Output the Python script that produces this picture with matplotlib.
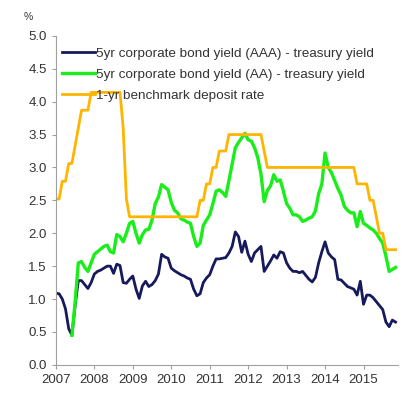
import numpy as np
import matplotlib
matplotlib.use("Agg")
import matplotlib.pyplot as plt

plt.rcParams['font.family'] = ['Liberation Sans', 'DejaVu Sans']

# monthly points, Jan 2007 .. Nov 2015
start_year = 2007
n_months = 107

aaa_spread = [
    1.09, 1.08, 1.00, 0.85, 0.55, 0.45, 0.90, 1.28, 1.28, 1.22, 1.16, 1.25,
    1.38, 1.42, 1.44, 1.47, 1.50, 1.50, 1.39, 1.53, 1.51, 1.25, 1.24, 1.30,
    1.35, 1.15, 1.01, 1.20, 1.27, 1.19, 1.22, 1.28, 1.38, 1.68, 1.64, 1.62,
    1.47, 1.43, 1.40, 1.37, 1.35, 1.32, 1.30, 1.15, 1.05, 1.08, 1.25, 1.32,
    1.37, 1.50, 1.61, 1.61, 1.62, 1.63, 1.70, 1.80, 2.02, 1.95, 1.71, 1.88,
    1.68, 1.57, 1.70, 1.75, 1.80, 1.42, 1.50, 1.58, 1.67, 1.62, 1.72, 1.70,
    1.55, 1.47, 1.42, 1.42, 1.40, 1.42, 1.36, 1.30, 1.26, 1.33, 1.55, 1.72,
    1.87, 1.70, 1.64, 1.60, 1.30, 1.29, 1.24, 1.19, 1.17, 1.15, 1.06, 1.27,
    0.92, 1.06, 1.06, 1.02, 0.96, 0.90, 0.84, 0.65, 0.58, 0.68, 0.65,
]

aa_spread = [
    np.nan, np.nan, np.nan, np.nan, np.nan, 0.45, 0.95, 1.55, 1.57, 1.48, 1.42, 1.55,
    1.68, 1.72, 1.76, 1.80, 1.82, 1.72, 1.70, 1.98, 1.95, 1.87, 2.00, 2.15,
    2.18, 2.00, 1.85, 1.98, 2.05, 2.06, 2.20, 2.45, 2.55, 2.74, 2.70, 2.66,
    2.47, 2.35, 2.31, 2.22, 2.20, 2.17, 2.15, 1.95, 1.80, 1.85, 2.12, 2.20,
    2.28, 2.45, 2.64, 2.66, 2.62, 2.56, 2.80, 3.05, 3.30, 3.38, 3.45, 3.52,
    3.42, 3.40, 3.30, 3.15, 2.90, 2.48, 2.65, 2.72, 2.89, 2.79, 2.81, 2.64,
    2.45, 2.38, 2.28, 2.28, 2.25, 2.18, 2.20, 2.23, 2.25, 2.34, 2.60, 2.75,
    3.22, 3.00, 2.92, 2.80, 2.68, 2.58, 2.41, 2.35, 2.31, 2.31, 2.10, 2.33,
    2.15, 2.12, 2.08, 2.05, 2.00, 1.92, 1.85, 1.65, 1.42, 1.45, 1.48,
]

deposit_rate = [
    2.52, 2.52, 2.79, 2.79, 3.06, 3.06, 3.33, 3.60, 3.87, 3.87, 3.87, 4.14,
    4.14, 4.14, 4.14, 4.14, 4.14, 4.14, 4.14, 4.14, 4.14, 3.60, 2.52, 2.25,
    2.25, 2.25, 2.25, 2.25, 2.25, 2.25, 2.25, 2.25, 2.25, 2.25, 2.25, 2.25,
    2.25, 2.25, 2.25, 2.25, 2.25, 2.25, 2.25, 2.25, 2.25, 2.50, 2.50, 2.75,
    2.75, 3.00, 3.00, 3.25, 3.25, 3.25, 3.50, 3.50, 3.50, 3.50, 3.50, 3.50,
    3.50, 3.50, 3.50, 3.50, 3.50, 3.25, 3.00, 3.00, 3.00, 3.00, 3.00, 3.00,
    3.00, 3.00, 3.00, 3.00, 3.00, 3.00, 3.00, 3.00, 3.00, 3.00, 3.00, 3.00,
    3.00, 3.00, 3.00, 3.00, 3.00, 3.00, 3.00, 3.00, 3.00, 3.00, 2.75, 2.75,
    2.75, 2.75, 2.50, 2.50, 2.25, 2.00, 2.00, 1.75, 1.75, 1.75, 1.75,
]

labels = [
    '5yr corporate bond yield (AAA) - treasury yield',
    '5yr corporate bond yield (AA) - treasury yield',
    '1-yr benchmark deposit rate',
]
year_ticks = list(range(2007, 2016))

x = start_year + np.arange(n_months) / 12.0

fig = plt.figure(figsize=(4.05, 3.94), dpi=100)
ax = fig.add_axes([0.138, 0.074, 0.845, 0.835])

ax.plot(x, aaa_spread, color='#16195c', lw=2.0, label=labels[0])
ax.plot(x, aa_spread, color='#1aee1a', lw=2.4, label=labels[1])
ax.plot(x, deposit_rate, color='#ffb400', lw=2.0, label=labels[2])

ax.set_xlim(2007, 2015.9)
ax.set_ylim(0, 5.0)
ax.set_yticks(np.arange(0, 5.01, 0.5))
ax.set_yticklabels(['%.1f' % v for v in np.arange(0, 5.01, 0.5)])
ax.set_xticks(year_ticks)
ax.set_xticklabels([str(y) for y in year_ticks])

for s in ['top', 'right']:
    ax.spines[s].set_visible(False)
for s in ['left', 'bottom']:
    ax.spines[s].set_color('#a0a0a0')
ax.tick_params(colors='#a0a0a0', labelcolor='#333333', labelsize=9.5, length=3)

ax.legend(loc='upper left', bbox_to_anchor=(-0.005, 0.99), frameon=False,
          fontsize=9.7, handlelength=2.4, handletextpad=0.12, labelspacing=0.65,
          borderaxespad=0.2, labelcolor='#333333')

fig.text(0.069, 0.957, '%', fontsize=7.5, color='#333333', ha='center', va='center')

fig.savefig('out.png', dpi=100)
